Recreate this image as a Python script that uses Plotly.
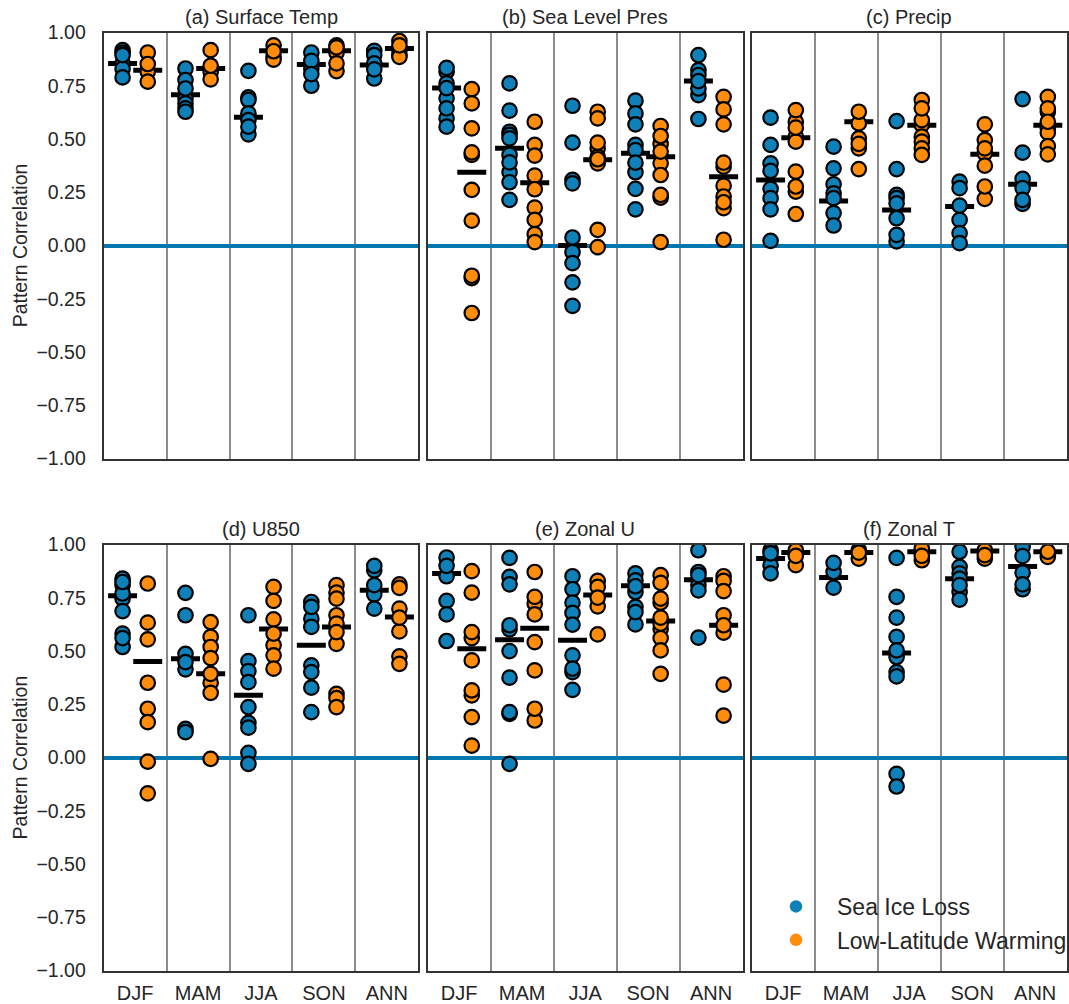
import plotly.graph_objects as go
from plotly.subplots import make_subplots

seasons = ['DJF', 'MAM', 'JJA', 'SON', 'ANN']
panel_titles = ['(a) Surface Temp', '(b) Sea Level Pres', '(c) Precip',
                '(d) U850', '(e) Zonal U', '(f) Zonal T']
y_ticks = [-1, -0.75, -0.5, -0.25, 0, 0.25, 0.5, 0.75, 1]

# each list holds one season, last value is drawn on top
a_ice = [[.917, .905, .855, .83, .789, .894],
         [.831, .777, .69, .667, .644, .628, .737],
         [.82, .695, .683, .62, .589, .522, .558],
         [.906, .83, .75, .867, .805],
         [.914, .894, .784, .855, .827]]
a_low = [[.906, .816, .769, .852],
         [.816, .78, .917, .844],
         [.94, .886, .873, .912],
         [.94, .905, .819, .855, .93],
         [.917, .894, .886, .96, .94]]
a_ice_mean = [.855, .708, .602, .85, .847]
a_low_mean = [.823, .831, .914, .914, .925]

b_ice = [[.816, .761, .691, .597, .558, .834, .739, .644],
         [.761, .633, .534, .519, .425, .344, .214, .503, .39, .297],
         [.656, .483, .308, .0375, -.031, -.173, -.283, .292, -.083],
         [.68, .62, .569, .472, .344, .266, .17, .448, .389],
         [.894, .823, .8, .706, .594, .737, .772]]
b_low = [[.734, .667, .55, .425, .4375, .261, .117, -.153, -.142, -.317],
         [.581, .472, .422, .328, .264, .178, .12, .053, .016],
         [.628, .597, .456, .386, .417, .483, .073, -.008, .405],
         [.561, .477, .386, .331, .225, .2375, .016, .514, .441],
         [.698, .639, .569, .37, .389, .281, .23, .175, .203, .027]]
b_ice_mean = [.739, .456, 0.0, .433, .772]
b_low_mean = [.344, .295, .402, .417, .323]

c_ice = [[.6, .472, .386, .266, .222, .17, .022, .35],
         [.464, .3625, .2875, .245, .152, .094, .222],
         [.584, .359, .2375, .222, .128, .019, .05, .198],
         [.3, .269, .12, .058, .011, .1875],
         [.6875, .436, .3125, .269, .195, .214]]
c_low = [[.581, .511, .4875, .636, .553, .347, .253, .277, .148],
         [.573, .503, .456, .359, .477, .628],
         [.683, .566, .511, .4875, .456, .425, .589, .644],
         [.569, .495, .433, .375, .219, .277, .456],
         [.698, .628, .55, .53, .467, .428, .644, .581]]
c_ice_mean = [.308, .209, .167, .183, .2875]
c_low_mean = [.506, .581, .564, .428, .564]

d_ice = [[.84, .809, .746, .687, .582, .519, .77, .561, .824],
         [.773, .668, .487, .414, .135, .119, .448],
         [.668, .453, .406, .354, .237, .163, .022, -.03, .14],
         [.73, .652, .613, .433, .401, .328, .213, .707],
         [.879, .766, .699, .9, .809]]
d_low = [[.817, .633, .555, .351, .229, .166, -.019, -.168],
         [.636, .566, .519, .351, .304, -.006, .467, .393],
         [.801, .735, .649, .527, .48, .417, .582],
         [.809, .774, .746, .668, .629, .534, .299, .279, .237, .589],
         [.813, .796, .699, .592, .475, .44, .657]]
d_ice_mean = [.76, .464, .293, .527, .785]
d_low_mean = [.451, .393, .603, .613, .66]

e_ice = [[.939, .851, .735, .672, .547, .9],
         [.937, .848, .813, .602, .621, .5, .375, .205, .213, -.03],
         [.851, .79, .727, .679, .624, .48, .401, .318, .417],
         [.864, .832, .777, .707, .625, .683, .804],
         [.973, .871, .809, .785, .563, .856]]
e_low = [[.875, .774, .561, .589, .456, .292, .315, .19, .056],
         [.871, .723, .754, .672, .542, .409, .174, .229],
         [.829, .71, .578, .801, .751],
         [.856, .82, .727, .746, .605, .561, .503, .393, .629, .657],
         [.851, .829, .781, .668, .586, .342, .197, .621]]
e_ice_mean = [.864, .553, .55, .806, .835]
e_low_mean = [.511, .607, .763, .641, .621]

f_ice = [[.973, .903, .864, .958],
         [.871, .914, .798],
         [.937, .754, .657, .566, .472, .401, .503, -.077, -.136, .381],
         [.895, .864, .84, .777, .741, .966, .809],
         [.989, .868, .79, .813, .945]]
f_low = [[.973, .903, .947],
         [.973, .934, .962],
         [.981, .926, .947],
         [.973, .934, .95],
         [.942, .966]]
f_ice_mean = [.934, .845, .491, .839, .897]
f_low_mean = [.962, .962, .966, .97, .966]

all_ice = [a_ice, b_ice, c_ice, d_ice, e_ice, f_ice]
all_low = [a_low, b_low, c_low, d_low, e_low, f_low]
all_ice_mean = [a_ice_mean, b_ice_mean, c_ice_mean, d_ice_mean, e_ice_mean, f_ice_mean]
all_low_mean = [a_low_mean, b_low_mean, c_low_mean, d_low_mean, e_low_mean, f_low_mean]

BLUE = '#0f80b8'
ORANGE = '#ff8c0a'
FONT = 'Liberation Sans'
TEXT = '#262626'
W, H = 1069, 1004

x_edges = [(103.7, 418.3), (427.7, 742.5), (751.7, 1066.7)]
y_edges = [(32.5, 458.5), (544.5, 970.6)]

fig = make_subplots(rows=2, cols=3)


def add_series(values, means, offset, color, row, col):
    # mean bars go first so the circles sit over them
    fig.add_trace(go.Scatter(
        x=[i + offset for i in range(5)],
        y=means,
        mode='markers',
        marker=dict(symbol='line-ew', size=20.7, line=dict(width=5, color='black')),
        showlegend=False,
        hoverinfo='skip'
    ), row=row, col=col)
    xs, ys = [], []
    for i, season_vals in enumerate(values):
        xs += [i + offset] * len(season_vals)
        ys += season_vals
    fig.add_trace(go.Scatter(
        x=xs,
        y=ys,
        mode='markers',
        marker=dict(size=14.5, color=color, line=dict(width=2.2, color='black')),
        showlegend=False
    ), row=row, col=col)


for n in range(6):
    row = n // 3 + 1
    col = n % 3 + 1
    add_series(all_ice[n], all_ice_mean[n], 0.3, BLUE, row, col)
    add_series(all_low[n], all_low_mean[n], 0.7, ORANGE, row, col)

    fig.update_xaxes(
        domain=[x_edges[col - 1][0] / W, x_edges[col - 1][1] / W],
        range=[0, 5],
        automargin=False,
        tickvals=[i + 0.5 for i in range(5)],
        ticktext=seasons if row == 2 else ['' for s in seasons],
        ticks='',
        ticklabelstandoff=3,
        tickfont=dict(size=20, color=TEXT),
        showgrid=False,
        zeroline=False,
        minor=dict(tickvals=[1, 2, 3, 4], showgrid=True, gridcolor='#8c8c8c', gridwidth=1.5, ticks=''),
        showline=True, mirror=True, linecolor='#333333', linewidth=2,
        row=row, col=col
    )
    fig.update_yaxes(
        domain=[1 - y_edges[row - 1][1] / H, 1 - y_edges[row - 1][0] / H],
        range=[-1, 1],
        automargin=False,
        tickvals=y_ticks,
        tickformat='.2f',
        showticklabels=col == 1,
        ticks='',
        ticklabelstandoff=12,
        tickfont=dict(size=19.5, color=TEXT),
        showgrid=False,
        zeroline=True, zerolinecolor='#0477b0', zerolinewidth=4,
        showline=True, mirror=True, linecolor='#333333', linewidth=2,
        row=row, col=col
    )
    if col == 1:
        fig.update_yaxes(title=dict(text='Pattern Correlation', font=dict(size=19.5, color=TEXT), standoff=4),
                         row=row, col=col)

    fig.add_annotation(
        text=panel_titles[n],
        xref='paper', yref='paper',
        x=sum(x_edges[col - 1]) / 2 / W,
        y=1 - (y_edges[row - 1][0] - 15.5) / H,
        xanchor='center', yanchor='middle',
        showarrow=False,
        font=dict(size=20, color=TEXT)
    )

# legend entries only, no data of their own
for name, color in [('Sea Ice Loss', BLUE), ('Low-Latitude Warming', ORANGE)]:
    fig.add_trace(go.Scatter(
        x=[None], y=[None], mode='markers', name=name, legendgroup=name,
        marker=dict(size=12.5, color=color)
    ), row=2, col=3)

fig.update_layout(
    width=W,
    height=H,
    # the legend runs close to the right edge, keep it from shrinking the panels
    margin=dict(l=0, r=0, t=0, b=0, autoexpand=False),
    paper_bgcolor='white',
    plot_bgcolor='white',
    font=dict(family=FONT, color=TEXT),
    legend=dict(
        x=755 / W, y=1 - 885 / H,
        xanchor='left', yanchor='top',
        bgcolor='rgba(0,0,0,0)',
        font=dict(size=23, color=TEXT),
        itemwidth=72,
        tracegroupgap=0.5
    )
)

fig.write_html('out.html', config=dict(displayModeBar=False), post_script="document.body.style.margin='0';")
